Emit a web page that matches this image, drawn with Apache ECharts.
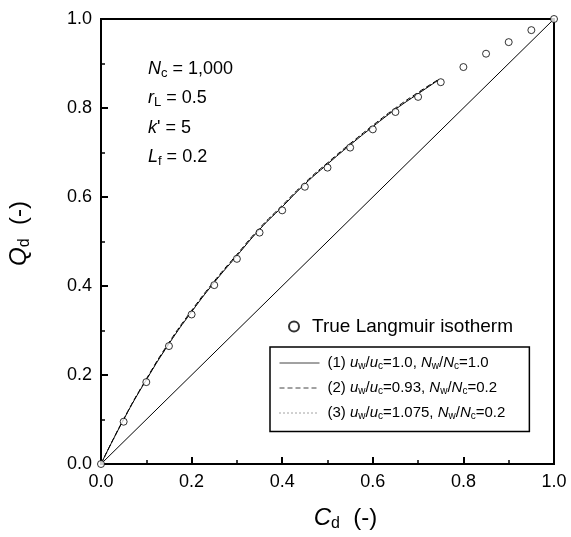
<!DOCTYPE html>
<html><head><meta charset="utf-8">
<script src="https://cdn.jsdelivr.net/npm/echarts@6/dist/echarts.min.js"></script>
<style>html,body{margin:0;padding:0;background:#fff}#c{width:571px;height:537px}</style>
</head><body><div id="c"></div>
<script>
// Data
const langmuirC = [0,0.05,0.1,0.15,0.2,0.25,0.3,0.35,0.4,0.45,0.5,0.55,0.6,0.65,0.7,0.75,0.8,0.85,0.9,0.95,1.0];
const langmuirQ = [0,0.095,0.184,0.265,0.336,0.402,0.461,0.520,0.570,0.623,0.666,0.711,0.752,0.791,0.825,0.858,0.892,0.922,0.948,0.975,1.0];
const curveC = [0,0.05,0.1,0.15,0.2,0.25,0.3,0.35,0.4,0.45,0.5,0.55,0.6,0.65,0.7,0.745];
const curve1Q = [0,0.100,0.189,0.270,0.342,0.408,0.468,0.527,0.578,0.629,0.674,0.717,0.758,0.797,0.832,0.863];
const curve2Q = [0,0.101,0.191,0.273,0.345,0.411,0.471,0.530,0.581,0.632,0.677,0.720,0.761,0.800,0.835,0.864];
const curve3Q = [0,0.100,0.190,0.271,0.343,0.409,0.469,0.528,0.579,0.630,0.675,0.718,0.759,0.798,0.833,0.863];
const diagC = [0,1];
const diagQ = [0,1];
const seriesNames = ['True Langmuir isotherm','(1) {i|u}{s|w}/{i|u}{s|c}=1.0, {i|N}{s|w}/{i|N}{s|c}=1.0','(2) {i|u}{s|w}/{i|u}{s|c}=0.93, {i|N}{s|w}/{i|N}{s|c}=0.2','(3) {i|u}{s|w}/{i|u}{s|c}=1.075, {i|N}{s|w}/{i|N}{s|c}=0.2'];

const F = 'Liberation Sans, Arial, sans-serif';
const zip = (a,b) => a.map((v,i)=>[v,b[i]]);
const chart = echarts.init(document.getElementById('c'), null, {renderer:'canvas'});
const nameRich = {
  i:{fontStyle:'italic', fontSize:24, fontFamily:F, color:'#000'},
  s:{fontSize:16, fontFamily:F, color:'#000', padding:[11,0,0,0]}
};
const axisCommon = {
  type:'value', min:0, max:1, interval:0.2,
  axisLine:{show:true, onZero:false, lineStyle:{color:'#000', width:2}},
  axisTick:{show:true, inside:true, length:7, lineStyle:{color:'#000', width:2}},
  minorTick:{show:true, splitNumber:2, length:4, lineStyle:{color:'#000', width:1.5}},
  splitLine:{show:false},
  axisLabel:{color:'#000', fontFamily:F, fontSize:18, margin:9, formatter:v=>v.toFixed(1)}
};
const richLeg = {
  i:{fontStyle:'italic', fontSize:15, fontFamily:F, color:'#000'},
  s:{fontSize:10, fontFamily:F, color:'#000', padding:[7,0,0,0]}
};
const option = {
  animation:false,
  backgroundColor:'#fff',
  grid:{left:101, right:17, top:19, bottom:73, outerBoundsMode:'none', containLabel:false,
        show:true, borderColor:'#000', borderWidth:2, backgroundColor:'transparent'},
  xAxis:Object.assign({}, axisCommon, {name:'{i|C}{s|d}  (-)', nameLocation:'middle', nameGap:41,
    nameTextStyle:{color:'#000', fontFamily:F, fontSize:24, padding:[0,0,0,36], rich:nameRich}}),
  yAxis:Object.assign({}, axisCommon, {name:'{i|Q}{s|d}  (-)', nameLocation:'middle', nameGap:68,
    nameTextStyle:{color:'#000', fontFamily:F, fontSize:24, padding:[0,0,0,16], rich:nameRich}}),
  legend:[
    {data:[seriesNames[0]], left:283, top:312, itemWidth:10, itemHeight:10, selectedMode:false,
     textStyle:{fontFamily:F, fontSize:19, color:'#000', padding:[0,0,0,8]}},
    {data:seriesNames.slice(1), orient:'vertical', left:270, top:347, selectedMode:false,
     itemWidth:40, itemHeight:14, itemGap:8.5, padding:[8,24,10,9],
     borderColor:'#000', borderWidth:1.5,
     itemStyle:{color:'rgba(0,0,0,0)', borderWidth:0},
     lineStyle:{width:1, color:'#444'},
     textStyle:{fontFamily:F, fontSize:15, color:'#000', lineHeight:16, padding:[0,0,0,3], rich:richLeg}}
  ],
  graphic:[{
    type:'text', left:148, top:54,
    style:{
      text:'{i|N}{s|c} = 1,000\n{i|r}{s|L} = 0.5\n{i|k}\' = 5\n{i|L}{s|f} = 0.2',
      font:'18px '+F, fill:'#000', lineHeight:29.5,
      rich:{
        i:{fontStyle:'italic', fontSize:18, fontFamily:F, fill:'#000', lineHeight:29.5},
        s:{fontSize:13, fontFamily:F, fill:'#000', padding:[9,0,0,0], lineHeight:29.5}
      }
    }
  }],
  series:[
    {name:seriesNames[0], type:'scatter', data:zip(langmuirC, langmuirQ), symbol:'circle', symbolSize:7,
     itemStyle:{color:'#fff', borderColor:'#000', borderWidth:1}, z:5},
    {name:seriesNames[1], type:'line', data:zip(curveC, curve1Q), symbol:'none', smooth:true, color:'#000',
     lineStyle:{color:'#000', width:1, type:'solid'}},
    {name:seriesNames[2], type:'line', data:zip(curveC, curve2Q), symbol:'none', smooth:true, color:'#000',
     lineStyle:{color:'#000', width:1, type:[5,3]}},
    {name:seriesNames[3], type:'line', data:zip(curveC, curve3Q), symbol:'none', smooth:true, color:'#000',
     lineStyle:{color:'#000', width:1, type:[1,3]}},
    {name:'diag', type:'line', data:zip(diagC, diagQ), symbol:'none', color:'#000',
     lineStyle:{color:'#000', width:1}}
  ]
};
chart.setOption(option);
</script></body></html>
